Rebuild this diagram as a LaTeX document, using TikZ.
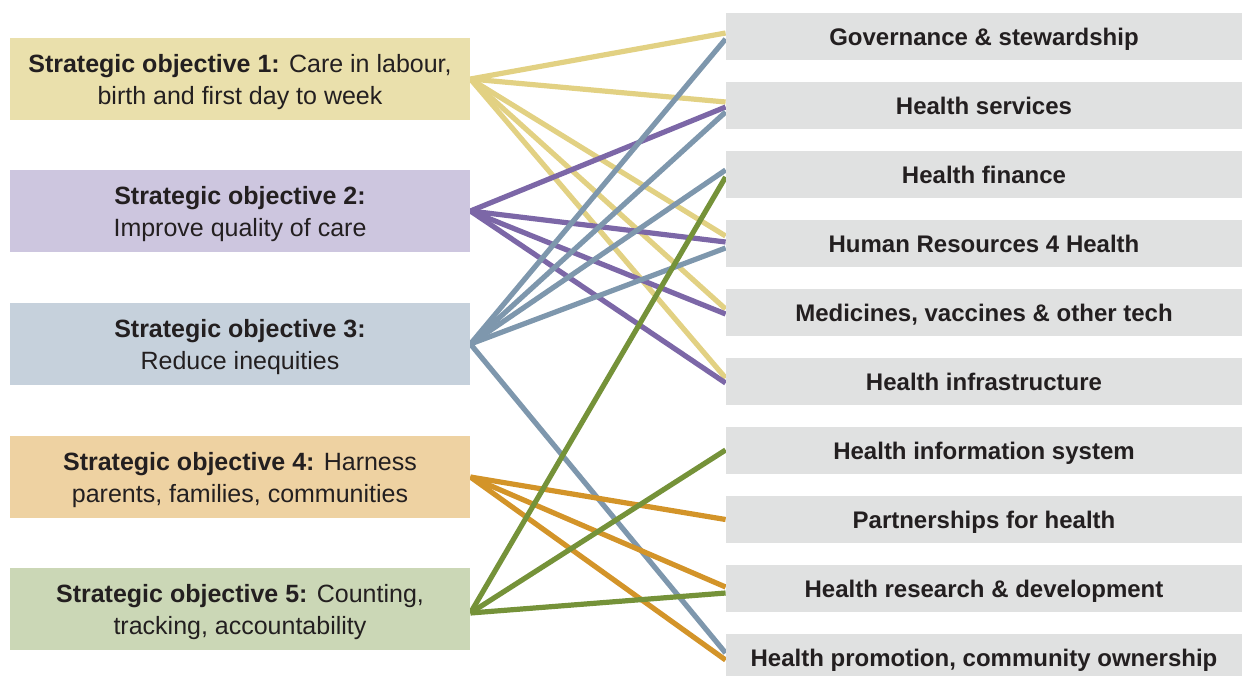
\documentclass[tikz,border=0pt]{standalone}
\usepackage{fontspec}
\setmainfont{Liberation Sans}
\usetikzlibrary{backgrounds}

\definecolor{objone}{HTML}{EAE0AC}
\definecolor{objtwo}{HTML}{CDC6DF}
\definecolor{objthree}{HTML}{C6D1DC}
\definecolor{objfour}{HTML}{EED2A2}
\definecolor{objfive}{HTML}{CBD7B6}
\definecolor{lineone}{HTML}{E2D183}
\definecolor{linetwo}{HTML}{7C67A7}
\definecolor{linethree}{HTML}{7E97AD}
\definecolor{linefour}{HTML}{D39429}
\definecolor{linefive}{HTML}{759239}
\definecolor{areagray}{HTML}{E0E1E1}
\definecolor{textdark}{HTML}{231F20}

\begin{document}
\begin{tikzpicture}[x=0.5pt,y=-0.5pt,
  objbox/.style={minimum width=230pt,minimum height=41pt,inner sep=0pt,align=center,text depth=0pt,text=textdark,font=\fontsize{12.5}{16}\selectfont},
  areabox/.style={fill=areagray,minimum width=258pt,minimum height=23.5pt,inner sep=0pt,text depth=0pt,text=textdark,font=\bfseries\fontsize{12}{14}\selectfont},
  link/.style={line width=2.6pt}]

\useasboundingbox (0,0) rectangle (1242,675);

\node[objbox,fill=objone] (so1) at (240,79) {\textbf{Strategic objective 1:} Care in labour,\\birth and first day to week};
\node[objbox,fill=objtwo] (so2) at (240,211) {\textbf{Strategic objective 2:}\\Improve quality of care};
\node[objbox,fill=objthree] (so3) at (240,344) {\textbf{Strategic objective 3:}\\Reduce inequities};
\node[objbox,fill=objfour] (so4) at (240,477) {\textbf{Strategic objective 4:} Harness\\parents, families, communities};
\node[objbox,fill=objfive] (so5) at (240,609) {\textbf{Strategic objective 5:} Counting,\\tracking, accountability};

\node[areabox] (gov) at (984,36.5) {Governance \& stewardship};
\node[areabox] (hs) at (984,105.5) {Health services};
\node[areabox] (hf) at (984,174.5) {Health finance};
\node[areabox] (hr) at (984,243.5) {Human Resources 4 Health};
\node[areabox] (med) at (984,312.5) {Medicines, vaccines \& other tech};
\node[areabox] (infra) at (984,381.5) {Health infrastructure};
\node[areabox] (his) at (984,450.5) {Health information system};
\node[areabox] (part) at (984,519.5) {Partnerships for health};
\node[areabox] (rd) at (984,588.5) {Health research \& development};
\node[areabox] (promo) at (984,657.5) {Health promotion, community ownership};

\begin{scope}[on background layer]
\draw[link,lineone] (so1.east) -- ([yshift=1.75pt]gov.west);
\draw[link,lineone] (so1.east) -- ([yshift=1.75pt]hs.west);
\draw[link,lineone] (so1.east) -- ([yshift=3.75pt]hr.west);
\draw[link,lineone] (so1.east) -- ([yshift=1.75pt]med.west);
\draw[link,lineone] (so1.east) -- ([yshift=1.75pt]infra.west);

\draw[link,linetwo] (so2.east) -- ([yshift=-0.75pt]hs.west);
\draw[link,linetwo] (so2.east) -- ([yshift=0.75pt]hr.west);
\draw[link,linetwo] (so2.east) -- ([yshift=-0.75pt]med.west);
\draw[link,linetwo] (so2.east) -- ([yshift=-0.75pt]infra.west);

\draw[link,linethree] (so3.east) -- ([yshift=-1.25pt]gov.west);
\draw[link,linethree] (so3.east) -- ([yshift=-3.25pt]hs.west);
\draw[link,linethree] (so3.east) -- ([yshift=2.25pt]hf.west);
\draw[link,linethree] (so3.east) -- ([yshift=-2.25pt]hr.west);
\draw[link,linethree] (so3.east) -- ([yshift=2.25pt]promo.west);

\draw[link,linefour] (so4.east) -- (part.west);
\draw[link,linefour] (so4.east) -- ([yshift=0.75pt]rd.west);
\draw[link,linefour] (so4.east) -- ([yshift=-1.25pt]promo.west);

\draw[link,linefive] ([yshift=-2pt]so5.east) -- ([yshift=-1.25pt]hf.west);
\draw[link,linefive] ([yshift=-2pt]so5.east) -- ([yshift=0.25pt]his.west);
\draw[link,linefive] ([yshift=-2pt]so5.east) -- ([yshift=-2.25pt]rd.west);
\end{scope}

\end{tikzpicture}
\end{document}
